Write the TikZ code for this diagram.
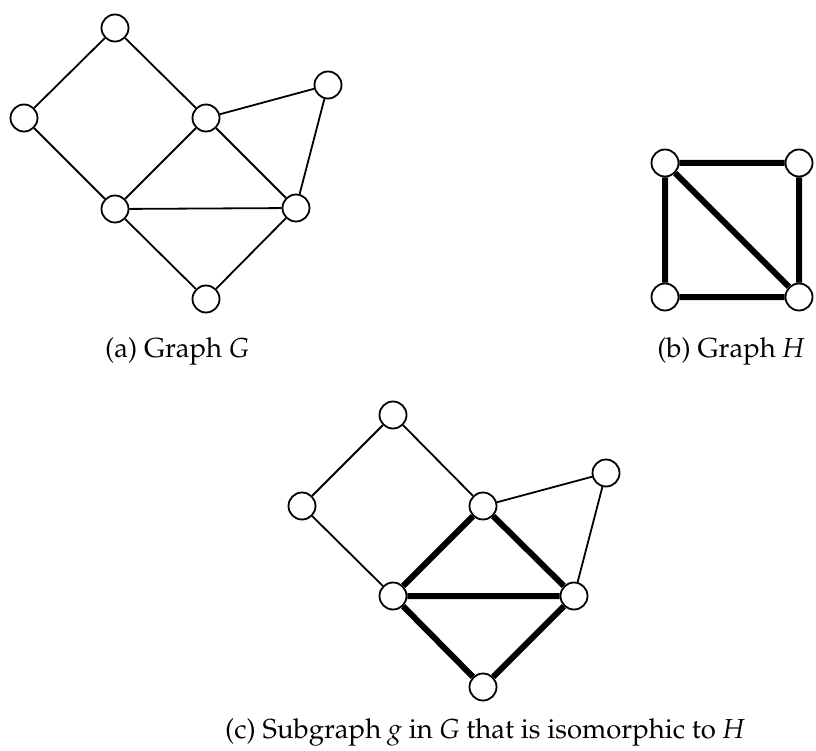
\documentclass[tikz,border=0pt]{standalone}
\usepackage[T1]{fontenc}
\usepackage{mathpazo}
\begin{document}
\begin{tikzpicture}[x=1pt,y=-1pt,
  vtx/.style={circle,draw,fill=white,line width=1.8pt,minimum size=27pt,inner sep=0pt},
  thinedge/.style={line width=1.8pt},
  thickedge/.style={line width=6pt},
  captxt/.style={font=\fontsize{27.5}{32}\selectfont,inner sep=0pt,anchor=base}]
\useasboundingbox (0,0) rectangle (816,751);
% Graph G
\node[vtx] (gt) at (115,28) {};
\node[vtx] (gl) at (24,118) {};
\node[vtx] (gm) at (206,118) {};
\node[vtx] (gf) at (328,85) {};
\node[vtx] (gll) at (115,209) {};
\node[vtx] (gr) at (296,208) {};
\node[vtx] (gb) at (206,299) {};
\draw[thinedge] (gt)--(gl) (gt)--(gm) (gl)--(gll) (gm)--(gf) (gm)--(gll) (gm)--(gr)
  (gf)--(gr) (gll)--(gr) (gll)--(gb) (gr)--(gb);
\node[captxt] (capa) at (177,357) {(a) Graph \textit{G}};
% Graph H
\node[vtx] (htl) at (665,163) {};
\node[vtx] (htr) at (799,163) {};
\node[vtx] (hbl) at (665,297) {};
\node[vtx] (hbr) at (799,297) {};
\draw[thickedge] (htl)--(htr) (htl)--(hbl) (htl)--(hbr) (htr)--(hbr) (hbl)--(hbr);
\node[captxt] (capb) at (731,357) {(b) Graph \textit{H}};
% Graph c
\node[vtx] (ct) at (393,415) {};
\node[vtx] (cl) at (302,506) {};
\node[vtx] (cm) at (483,506) {};
\node[vtx] (cf) at (606,473) {};
\node[vtx] (cll) at (393,596) {};
\node[vtx] (cr) at (574,596) {};
\node[vtx] (cb) at (483,687) {};
\draw[thinedge] (ct)--(cl) (ct)--(cm) (cl)--(cll) (cm)--(cf) (cf)--(cr);
\draw[thickedge] (cm)--(cll) (cm)--(cr) (cll)--(cr) (cll)--(cb) (cr)--(cb);
\node[captxt] (capc) at (485,738) {(c) Subgraph \textit{g} in \textit{G} that is isomorphic to \textit{H}};
\end{tikzpicture}
\end{document}
